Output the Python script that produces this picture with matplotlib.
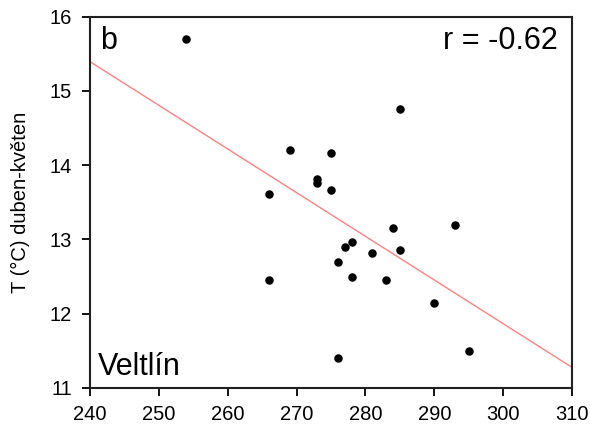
import numpy as np
import matplotlib
matplotlib.use("Agg")
import matplotlib.pyplot as plt

plt.rcParams['font.family'] = ['Liberation Sans', 'DejaVu Sans']

# datum (den v roce) a teplota duben-květen, Veltlín
den = [254, 266, 266, 269, 273, 273, 275, 275, 276, 276, 277,
       278, 278, 281, 283, 284, 285, 285, 290, 293, 295]
teplota = [15.70, 13.61, 12.45, 14.21, 13.82, 13.76, 14.16, 13.67, 12.70, 11.40, 12.90,
           12.96, 12.49, 12.82, 12.45, 13.15, 14.76, 12.86, 12.15, 13.20, 11.50]

x_ticks = [240, 250, 260, 270, 280, 290, 300, 310]
y_ticks = [11, 12, 13, 14, 15, 16]

fig = plt.figure(figsize=(5.9, 4.29), dpi=100)
ax = fig.add_axes([0.1525, 0.0956, 0.817, 0.8655])

# regresni primka
k, q = np.polyfit(den, teplota, 1)
xx = np.array([240, 310])
ax.plot(xx, k * xx + q, color='#ff8080', lw=1.0, zorder=2)

ax.scatter(den, teplota, s=26, color='black', zorder=3)

ax.set_xlim(240, 310)
ax.set_ylim(11, 16)
ax.set_xticks(x_ticks)
ax.set_yticks(y_ticks)
ax.tick_params(direction='out', length=6, width=1.3, labelsize=14.5)
ax.tick_params(axis='x', pad=6)
ax.tick_params(axis='y', pad=7)
for s in ax.spines.values():
    s.set_linewidth(1.5)
    s.set_color('#202020')

ax.set_ylabel('T (°C) duben-květen', fontsize=14.5, labelpad=14)

ax.text(0.022, 0.975, 'b', transform=ax.transAxes, fontsize=22, ha='left', va='top')
ax.text(0.971, 0.975, 'r = -0.62', transform=ax.transAxes, fontsize=22, ha='right', va='top')
ax.text(0.017, 0.035, 'Veltlín', transform=ax.transAxes, fontsize=22, ha='left', va='baseline')

fig.savefig('out.png', dpi=100)
